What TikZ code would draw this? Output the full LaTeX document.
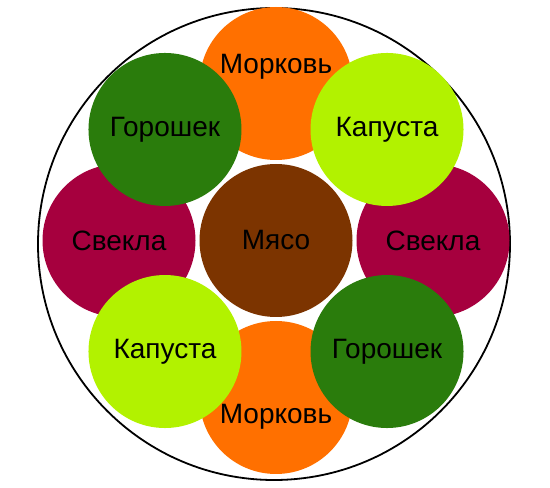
\documentclass[tikz,border=0pt]{standalone}
\usepackage{fontspec}
\setmainfont{Liberation Sans}
\definecolor{carrot}{RGB}{255,112,0}
\definecolor{peas}{RGB}{42,124,12}
\definecolor{beet}{RGB}{166,0,62}
\definecolor{cabbage}{RGB}{178,242,0}
\definecolor{meatbrown}{RGB}{124,52,0}
\tikzset{
    vegtext/.style={font=\fontsize{28}{33}\selectfont,text=black},
    veg/.style={circle,minimum size=153pt,inner sep=0pt,vegtext},
    plate/.style={circle,draw=black,line width=1.8pt,minimum size=472pt,inner sep=0pt},
}
\newcommand\vegetable[4]{
    \node[veg,fill=#3] (#1) at ([shift={(#2:157)}]meatpos) {#4};
}
\begin{document}
\begin{tikzpicture}[x=1pt,y=1pt]
            \useasboundingbox (0,0) rectangle (550,488);
            \node[plate] (plate) at (274,244) {};
            \coordinate (meatpos) at (276,247.5);
            \node[veg,fill=carrot,label={[vegtext,yshift=17pt]center:Морковь}] (carrotTop) at ([shift={(90:157)}]meatpos) {};
            \node[veg,fill=carrot,label={[vegtext,yshift=-19pt]center:Морковь}] (carrotBottom) at ([shift={(270:157)}]meatpos) {};
            \vegetable {beetLeft}  {180} {beet} {Свекла}
            \vegetable {beetRight} {0}   {beet} {Свекла}
            \vegetable {peasTL}    {135} {peas} {Горошек}
            \vegetable {peasBR}    {315} {peas} {Горошек}
            \vegetable {cabbageTR} {45}  {cabbage} {Капуста}
            \vegetable {cabbageBL} {225} {cabbage} {Капуста}
            \node[veg,fill=meatbrown] (meat) at (meatpos) {Мясо};
        \end{tikzpicture}
\end{document}
